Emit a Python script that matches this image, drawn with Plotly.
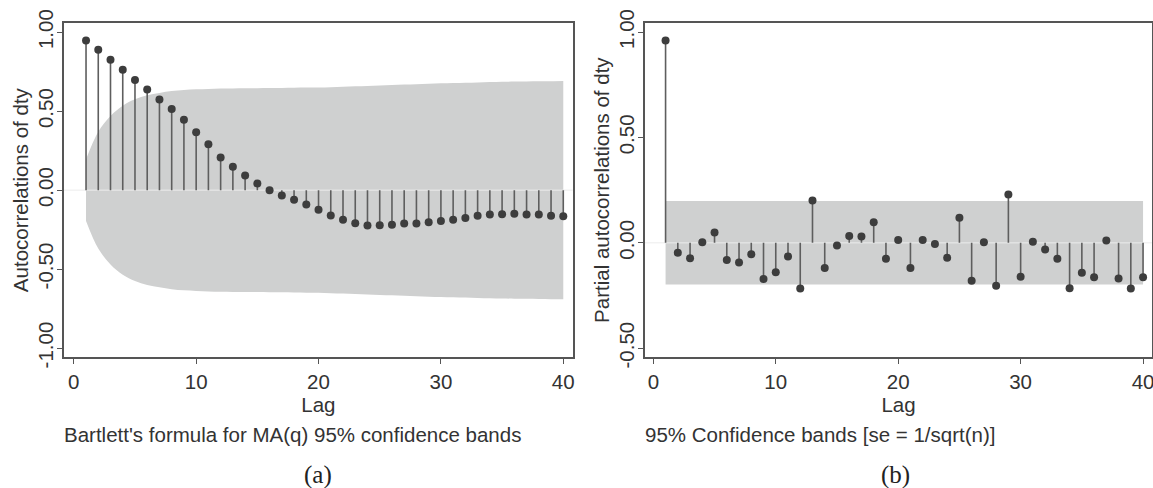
import plotly.graph_objects as go

# ---------------- data ----------------
lags = list(range(1, 41))

acf = [0.947, 0.888, 0.825, 0.762, 0.698, 0.637, 0.574, 0.513, 0.445, 0.367,
       0.291, 0.207, 0.148, 0.093, 0.042, 0.000, -0.034, -0.061, -0.091, -0.124,
       -0.160, -0.188, -0.209, -0.224, -0.222, -0.219, -0.211, -0.211, -0.203, -0.196,
       -0.188, -0.177, -0.162, -0.154, -0.152, -0.150, -0.154, -0.154, -0.162, -0.165]

# Bartlett 95% band (upper half-width), read per lag
acf_band = [0.195, 0.37, 0.47, 0.535, 0.575, 0.600, 0.615, 0.627, 0.634, 0.638,
            0.641, 0.643, 0.644, 0.645, 0.645, 0.646, 0.647, 0.648, 0.649, 0.650,
            0.652, 0.654, 0.657, 0.660, 0.663, 0.666, 0.669, 0.671, 0.674, 0.676,
            0.678, 0.680, 0.682, 0.684, 0.686, 0.687, 0.688, 0.689, 0.690, 0.691]

pacf = [0.960, -0.047, -0.073, 0.003, 0.049, -0.081, -0.093, -0.054, -0.171, -0.139,
        -0.065, -0.217, 0.201, -0.119, -0.013, 0.032, 0.030, 0.098, -0.076, 0.014,
        -0.119, 0.014, -0.006, -0.071, 0.119, -0.180, 0.003, -0.203, 0.229, -0.161,
        0.005, -0.032, -0.076, -0.215, -0.142, -0.163, 0.011, -0.169, -0.217, -0.163]

pacf_band = 0.198  # 1.96 * se, se = 1/sqrt(n)

x_ticks = [0, 10, 20, 30, 40]
acf_yticks = [-1.0, -0.5, 0.0, 0.5, 1.0]
pacf_yticks = [-0.5, 0.0, 0.5, 1.0]

acf_ytitle = "Autocorrelations of dty"
pacf_ytitle = "Partial autocorrelations of dty"
xtitle = "Lag"
caption_a = "Bartlett's formula for MA(q) 95% confidence bands"
caption_b = "95% Confidence bands [se = 1/sqrt(n)]"

# ---------------- styling ----------------
BAND = "#cfd0d0"
STEM = "#5e5e5e"
DOT = "#3d3d3d"
FRAME = "#555555"
TXT = "#333333"
FONT = "Liberation Sans, Arial, sans-serif"
FS = 20.5

W, H = 1153, 488


def stems(xs, ys):
    sx, sy = [], []
    for x, y in zip(xs, ys):
        sx += [x, x, None]
        sy += [0, y, None]
    return sx, sy


fig = go.Figure()

# ---- panel (a): ACF ----
fig.add_trace(go.Scatter(x=lags, y=acf_band, mode="lines", line=dict(width=0, shape="spline", color=BAND),
                         xaxis="x", yaxis="y", hoverinfo="skip", showlegend=False))
fig.add_trace(go.Scatter(x=lags, y=[-b for b in acf_band], mode="lines", fill="tonexty", fillcolor=BAND,
                         line=dict(width=0, shape="spline", color=BAND),
                         xaxis="x", yaxis="y", hoverinfo="skip", showlegend=False))
fig.add_trace(go.Scatter(x=[-0.8, 40.8], y=[0, 0], mode="lines", line=dict(color="#ececec", width=1),
                         xaxis="x", yaxis="y", hoverinfo="skip", showlegend=False))
sx, sy = stems(lags, acf)
fig.add_trace(go.Scatter(x=sx, y=sy, mode="lines", line=dict(color=STEM, width=1.6),
                         xaxis="x", yaxis="y", hoverinfo="skip", showlegend=False))
fig.add_trace(go.Scatter(x=lags, y=acf, mode="markers", marker=dict(color=DOT, size=8),
                         xaxis="x", yaxis="y", showlegend=False))

# ---- panel (b): PACF ----
fig.add_trace(go.Scatter(x=lags, y=[pacf_band] * len(lags), mode="lines", line=dict(width=0, color=BAND),
                         xaxis="x2", yaxis="y2", hoverinfo="skip", showlegend=False))
fig.add_trace(go.Scatter(x=lags, y=[-pacf_band] * len(lags), mode="lines", fill="tonexty", fillcolor=BAND,
                         line=dict(width=0, color=BAND),
                         xaxis="x2", yaxis="y2", hoverinfo="skip", showlegend=False))
fig.add_trace(go.Scatter(x=[-0.7, 40.8], y=[0, 0], mode="lines", line=dict(color="#ececec", width=1),
                         xaxis="x2", yaxis="y2", hoverinfo="skip", showlegend=False))
sx, sy = stems(lags, pacf)
fig.add_trace(go.Scatter(x=sx, y=sy, mode="lines", line=dict(color=STEM, width=1.6),
                         xaxis="x2", yaxis="y2", hoverinfo="skip", showlegend=False))
fig.add_trace(go.Scatter(x=lags, y=pacf, mode="markers", marker=dict(color=DOT, size=8),
                         xaxis="x2", yaxis="y2", showlegend=False))

ydom = [1 - 357.3 / H, 1 - 23 / H]

common_axis = dict(showline=True, mirror=True, linecolor=FRAME, linewidth=1.5,
                   ticks="outside", ticklen=5, tickwidth=1, tickcolor=FRAME,
                   showgrid=False, zeroline=False, automargin=False,
                   ticklabeloverflow="allow",
                   tickfont=dict(family=FONT, size=FS, color=TXT))

fig.update_layout(
    template="none",
    width=W, height=H,
    margin=dict(l=0, r=0, t=0, b=0, pad=0),
    paper_bgcolor="white", plot_bgcolor="white",
    font=dict(family=FONT, color=TXT),
    xaxis=dict(domain=[64 / W, 572.7 / W], range=[-0.8, 40.77], tickvals=x_ticks,
               title=dict(text=xtitle, font=dict(family=FONT, size=FS, color=TXT), standoff=4),
               anchor="y", **common_axis),
    yaxis=dict(domain=ydom, range=[-1.058, 1.058], tickvals=acf_yticks,
               ticktext=[f"{v:.2f}" for v in acf_yticks],
               tickangle=-90, ticklabelstandoff=-4,
               title=dict(text=acf_ytitle, font=dict(family=FONT, size=FS, color=TXT), standoff=0),
               anchor="x", **common_axis),
    xaxis2=dict(domain=[645 / W, 1152 / W], range=[-0.68, 40.73], tickvals=x_ticks,
                title=dict(text=xtitle, font=dict(family=FONT, size=FS, color=TXT), standoff=4),
                anchor="y2", **common_axis),
    yaxis2=dict(domain=ydom, range=[-0.543, 1.043], tickvals=pacf_yticks,
                ticktext=[f"{v:.2f}" for v in pacf_yticks],
                tickangle=-90, ticklabelstandoff=-4,
                title=dict(text=pacf_ytitle, font=dict(family=FONT, size=FS, color=TXT), standoff=0),
                anchor="x2", **common_axis),
    annotations=[
        dict(text=caption_a, xref="paper", yref="paper", x=63 / W, y=1 - 434 / H,
             xanchor="left", yanchor="middle", showarrow=False, borderpad=0,
             font=dict(family=FONT, size=FS, color=TXT)),
        dict(text=caption_b, xref="paper", yref="paper", x=644 / W, y=1 - 434 / H,
             xanchor="left", yanchor="middle", showarrow=False, borderpad=0,
             font=dict(family=FONT, size=FS, color=TXT)),
        dict(text="(a)", xref="paper", yref="paper", x=318 / W, y=1 - 475 / H,
             xanchor="center", yanchor="middle", showarrow=False,
             font=dict(family="Liberation Serif, serif", size=25, color="#222222")),
        dict(text="(b)", xref="paper", yref="paper", x=895 / W, y=1 - 475 / H,
             xanchor="center", yanchor="middle", showarrow=False,
             font=dict(family="Liberation Serif, serif", size=25, color="#222222")),
    ],
)

fig.write_html("out.html", config={"displayModeBar": False},
               post_script="document.body.style.margin='0';document.body.style.overflow='hidden';")
